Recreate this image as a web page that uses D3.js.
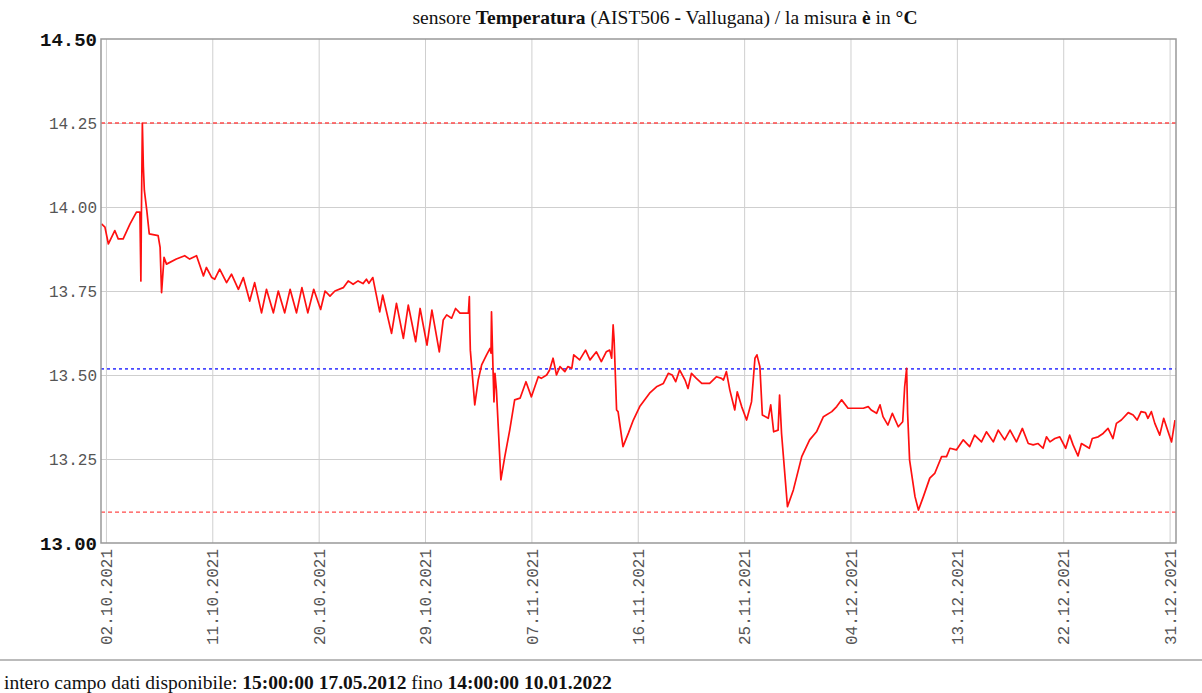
<!DOCTYPE html>
<html>
<head>
<meta charset="utf-8">
<script src="https://cdn.jsdelivr.net/npm/d3@7"></script>
<style>
  body { margin: 0; background: #fff; }
  svg { display: block; }
</style>
</head>
<body>
<svg id="chart" width="1202" height="693"></svg>
<script>
// Tick labels on the time axis (every 9 days)
const xTickLabels = ['02.10.2021', '11.10.2021', '20.10.2021', '29.10.2021', '07.11.2021', '16.11.2021',
    '25.11.2021', '04.12.2021', '13.12.2021', '22.12.2021', '31.12.2021'];
// Y ticks
const yTickValues = [13.00, 13.25, 13.50, 13.75, 14.00, 14.25, 14.50];
// Visible time range
const xRange = ['01.10.2021 14', '31.12.2021 13'];
// Reference lines: max, min (red) and mean (blue)
const maxLine = 14.25;
const minLine = 13.092;
const meanLine = 13.518;

// Hourly-ish readings [dd.mm HH, °C]
const readings = [
    ['01.10 15', 13.95], ['01.10 22', 13.94], ['02.10 05', 13.89], ['02.10 18', 13.93], ['03.10 01', 13.905],
    ['03.10 11', 13.905], ['04.10 01', 13.95], ['04.10 14', 13.985], ['04.10 21', 13.985], ['04.10 23', 13.78],
    ['05.10 00', 13.97], ['05.10 02', 14.25], ['05.10 04', 14.12], ['05.10 06', 14.05], ['05.10 11', 13.99],
    ['05.10 16', 13.92], ['06.10 10', 13.915], ['06.10 14', 13.88], ['06.10 17', 13.745], ['06.10 22', 13.85],
    ['07.10 03', 13.83], ['07.10 23', 13.845], ['08.10 16', 13.855], ['09.10 02', 13.845], ['09.10 16', 13.855],
    ['10.10 06', 13.795], ['10.10 12', 13.82], ['10.10 23', 13.79], ['11.10 05', 13.785], ['11.10 15', 13.815],
    ['12.10 05', 13.775], ['12.10 15', 13.80], ['13.10 05', 13.755], ['13.10 15', 13.79], ['14.10 04', 13.72],
    ['14.10 14', 13.775], ['15.10 04', 13.685], ['15.10 14', 13.755], ['16.10 04', 13.685], ['16.10 14', 13.75],
    ['17.10 03', 13.685], ['17.10 14', 13.755], ['18.10 03', 13.685], ['18.10 14', 13.76], ['19.10 02', 13.685],
    ['19.10 14', 13.755], ['20.10 04', 13.695], ['20.10 13', 13.75], ['20.10 23', 13.735], ['21.10 09', 13.75],
    ['22.10 02', 13.76], ['22.10 12', 13.78], ['22.10 22', 13.77], ['23.10 08', 13.78], ['23.10 18', 13.772],
    ['24.10 01', 13.785], ['24.10 06', 13.773], ['24.10 14', 13.79], ['25.10 04', 13.688], ['25.10 10', 13.738],
    ['26.10 04', 13.624], ['26.10 14', 13.713], ['27.10 04', 13.609], ['27.10 14', 13.708], ['28.10 05', 13.599],
    ['28.10 14', 13.698], ['29.10 04', 13.589], ['29.10 14', 13.693], ['30.10 05', 13.569], ['30.10 13', 13.664],
    ['30.10 20', 13.679], ['31.10 06', 13.669], ['31.10 14', 13.698], ['31.10 23', 13.684], ['01.11 16', 13.684],
    ['01.11 18', 13.733], ['01.11 19', 13.634], ['01.11 20', 13.574], ['02.11 05', 13.411], ['02.11 12', 13.485],
    ['02.11 19', 13.53], ['03.11 05', 13.56], ['03.11 12', 13.579], ['03.11 14', 13.565], ['03.11 15', 13.688],
    ['03.11 17', 13.574], ['03.11 20', 13.42], ['03.11 22', 13.505], ['04.11 01', 13.455], ['04.11 10', 13.188],
    ['04.11 18', 13.257], ['05.11 04', 13.336], ['05.11 14', 13.426], ['06.11 01', 13.431], ['06.11 13', 13.48],
    ['07.11 00', 13.435], ['07.11 14', 13.495], ['07.11 20', 13.49], ['08.11 07', 13.50], ['08.11 13', 13.515],
    ['08.11 20', 13.55], ['09.11 03', 13.50], ['09.11 10', 13.525], ['09.11 20', 13.51], ['10.11 02', 13.525],
    ['10.11 10', 13.52], ['10.11 14', 13.56], ['11.11 02', 13.545], ['11.11 14', 13.574], ['11.11 23', 13.545],
    ['12.11 12', 13.569], ['12.11 22', 13.54], ['13.11 08', 13.569], ['13.11 15', 13.574], ['13.11 19', 13.55],
    ['13.11 22', 13.649], ['14.11 00', 13.604], ['14.11 05', 13.396], ['14.11 08', 13.391], ['14.11 18', 13.287],
    ['15.11 05', 13.327], ['15.11 15', 13.366], ['16.11 04', 13.406], ['17.11 00', 13.446], ['17.11 14', 13.465],
    ['18.11 04', 13.475], ['18.11 14', 13.505], ['18.11 22', 13.50], ['19.11 05', 13.48], ['19.11 13', 13.515],
    ['20.11 00', 13.485], ['20.11 06', 13.46], ['20.11 13', 13.505], ['20.11 23', 13.49], ['21.11 10', 13.475],
    ['22.11 02', 13.475], ['22.11 16', 13.495], ['23.11 02', 13.49], ['23.11 06', 13.485], ['23.11 12', 13.51],
    ['23.11 19', 13.455], ['24.11 05', 13.396], ['24.11 10', 13.45], ['24.11 19', 13.406], ['25.11 05', 13.366],
    ['25.11 15', 13.42], ['25.11 22', 13.55], ['26.11 02', 13.56], ['26.11 08', 13.525], ['26.11 13', 13.381],
    ['27.11 01', 13.371], ['27.11 06', 13.411], ['27.11 12', 13.331], ['27.11 21', 13.336], ['28.11 00', 13.44],
    ['28.11 04', 13.326], ['28.11 16', 13.108], ['29.11 04', 13.158], ['29.11 21', 13.257], ['30.11 13', 13.307],
    ['01.12 03', 13.331], ['01.12 17', 13.376], ['02.12 10', 13.391], ['02.12 20', 13.406], ['03.12 06', 13.426],
    ['03.12 19', 13.401], ['04.12 12', 13.401], ['05.12 02', 13.401], ['05.12 12', 13.406], ['05.12 18', 13.396],
    ['06.12 05', 13.386], ['06.12 12', 13.411], ['06.12 18', 13.376], ['07.12 04', 13.351], ['07.12 13', 13.386],
    ['08.12 01', 13.346], ['08.12 10', 13.361], ['08.12 14', 13.465], ['08.12 18', 13.52], ['08.12 20', 13.386],
    ['09.12 00', 13.247], ['09.12 11', 13.138], ['09.12 18', 13.098], ['10.12 04', 13.138], ['10.12 17', 13.193],
    ['11.12 03', 13.207], ['11.12 17', 13.257], ['12.12 03', 13.257], ['12.12 10', 13.282], ['12.12 23', 13.277],
    ['13.12 13', 13.307], ['14.12 02', 13.287], ['14.12 12', 13.321], ['15.12 02', 13.301], ['15.12 12', 13.331],
    ['16.12 02', 13.301], ['16.12 12', 13.336], ['17.12 01', 13.307], ['17.12 12', 13.336], ['18.12 01', 13.301],
    ['18.12 13', 13.341], ['19.12 01', 13.296], ['19.12 11', 13.292], ['19.12 21', 13.296], ['20.12 07', 13.282],
    ['20.12 14', 13.316], ['20.12 21', 13.301], ['21.12 07', 13.311], ['21.12 17', 13.316], ['22.12 05', 13.282],
    ['22.12 13', 13.321], ['22.12 20', 13.292], ['23.12 06', 13.259], ['23.12 13', 13.296], ['24.12 05', 13.282],
    ['24.12 11', 13.311], ['24.12 23', 13.316], ['25.12 09', 13.326], ['25.12 19', 13.341], ['26.12 05', 13.311],
    ['26.12 12', 13.356], ['26.12 22', 13.366], ['27.12 12', 13.388], ['27.12 22', 13.381], ['28.12 06', 13.366],
    ['28.12 14', 13.391], ['28.12 23', 13.388], ['29.12 04', 13.371], ['29.12 11', 13.391], ['29.12 18', 13.356],
    ['30.12 04', 13.321], ['30.12 12', 13.371], ['30.12 21', 13.331], ['31.12 04', 13.301], ['31.12 11', 13.366]
];

const svg = d3.select('#chart');
const margin = { top: 39, left: 101, right: 26, bottom: 150 };
const width = 1202 - margin.left - margin.right;
const height = 693 - margin.top - margin.bottom;

const parseHour = d3.timeParse('%d.%m.%Y %H');
const parseDay = d3.timeParse('%d.%m.%Y');
const data = readings.map(([t, v]) => ({
    date: parseHour(t.replace(' ', '.2021 ')),
    value: v
}));

const x = d3.scaleTime()
    .domain(xRange.map(parseHour))
    .range([0, width]);
const y = d3.scaleLinear()
    .domain([13, 14.5])
    .range([height, 0]);

const g = svg.append('g').attr('transform', `translate(${margin.left},${margin.top})`);

// Grid lines
const tickDates = xTickLabels.map(parseDay);
g.append('g')
    .attr('class', 'grid')
    .attr('transform', `translate(0,${height})`)
    .call(d3.axisBottom(x).tickValues(tickDates).tickSize(-height).tickFormat(''))
    .call(s => s.select('.domain').remove())
    .call(s => s.selectAll('line').attr('stroke', '#cfcfcf'));
g.append('g')
    .attr('class', 'grid')
    .call(d3.axisLeft(y).tickValues(yTickValues.slice(1, -1)).tickSize(-width).tickFormat(''))
    .call(s => s.select('.domain').remove())
    .call(s => s.selectAll('line').attr('stroke', '#cfcfcf'));

// Reference lines
const refLines = [
    { v: maxLine, color: '#ff4a4a', dash: '4,3', w: 1.4 },
    { v: minLine, color: '#ff4a4a', dash: '4,3', w: 1.4 },
    { v: meanLine, color: '#4a4aff', dash: '3,3', w: 1.8 }
];
g.selectAll('.ref')
    .data(refLines)
    .join('line')
    .attr('x1', 0)
    .attr('x2', width)
    .attr('y1', d => y(d.v))
    .attr('y2', d => y(d.v))
    .attr('stroke', d => d.color)
    .attr('stroke-dasharray', d => d.dash)
    .attr('stroke-width', d => d.w);

// Temperature line
g.append('path')
    .datum(data)
    .attr('fill', 'none')
    .attr('stroke', '#ff1010')
    .attr('stroke-width', 1.7)
    .attr('stroke-linejoin', 'round')
    .attr('d', d3.line().x(d => x(d.date)).y(d => y(d.value)));

// Frame
g.append('rect')
    .attr('width', width)
    .attr('height', height)
    .attr('fill', 'none')
    .attr('stroke', '#999')
    .attr('stroke-width', 1.5);

// Y axis labels
const yAxis = g.append('g')
    .call(d3.axisLeft(y).tickValues(yTickValues).tickSize(0).tickPadding(4).tickFormat(d3.format('.2f')));
yAxis.select('.domain').remove();
yAxis.selectAll('text')
    .attr('font-family', '"Liberation Mono", monospace')
    .attr('font-size', d => (d === 13 || d === 14.5) ? 19 : 16)
    .attr('font-weight', d => (d === 13 || d === 14.5) ? 'bold' : 'normal')
    .attr('fill', d => (d === 13 || d === 14.5) ? '#111' : '#555');

// X axis labels (rotated)
const xAxis = g.append('g')
    .attr('transform', `translate(0,${height})`)
    .call(d3.axisBottom(x).tickValues(tickDates).tickSize(0).tickFormat((d, i) => xTickLabels[i]));
xAxis.select('.domain').remove();
xAxis.selectAll('text')
    .attr('font-family', '"Liberation Mono", monospace')
    .attr('font-size', 16)
    .attr('fill', '#555')
    .attr('text-anchor', 'end')
    .attr('transform', 'rotate(-90)')
    .attr('x', -6)
    .attr('y', 0)
    .attr('dy', '0.35em');

// Title
const title = svg.append('text')
    .attr('x', 665)
    .attr('y', 24)
    .attr('text-anchor', 'middle')
    .attr('font-family', '"Liberation Serif", serif')
    .attr('font-size', 19.5)
    .attr('fill', '#111');
title.append('tspan').text('sensore ');
title.append('tspan').attr('font-weight', 'bold').text('Temperatura');
title.append('tspan').text(' (AIST506 ');
title.append('tspan').attr('font-weight', 'bold').text('-');
title.append('tspan').text(' Vallugana) / la misura ');
title.append('tspan').attr('font-weight', 'bold').text('è');
title.append('tspan').text(' in ');
title.append('tspan').attr('font-weight', 'bold').text('°C');

// Footer
svg.append('line')
    .attr('x1', 0).attr('x2', 1202)
    .attr('y1', 660).attr('y2', 660)
    .attr('stroke', '#bbb')
    .attr('stroke-width', 2);
const footer = svg.append('text')
    .attr('x', 4)
    .attr('y', 689)
    .attr('font-family', '"Liberation Serif", serif')
    .attr('font-size', 19.5)
    .attr('fill', '#111');
footer.append('tspan').text('intero campo dati disponibile: ');
footer.append('tspan').attr('font-weight', 'bold').text('15:00:00 17.05.2012');
footer.append('tspan').text(' fino ');
footer.append('tspan').attr('font-weight', 'bold').text('14:00:00 10.01.2022');
</script>
</body>
</html>
